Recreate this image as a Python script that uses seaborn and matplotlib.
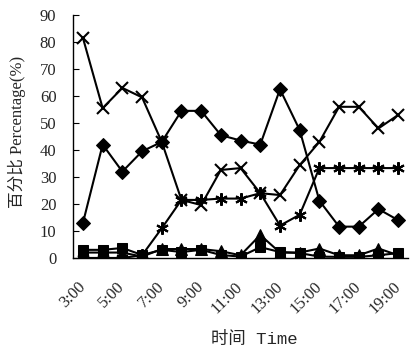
import numpy as np
import seaborn as sns
import matplotlib.pyplot as plt
from matplotlib.ticker import FixedLocator
from matplotlib.transforms import ScaledTranslation

hours = list(range(3, 20))
hour_labels = ["3:00", "5:00", "7:00", "9:00", "11:00", "13:00", "15:00", "17:00", "19:00"]
label_hours = [3, 5, 7, 9, 11, 13, 15, 17, 19]

diamond = [13, 42, 32, 39.5, 43, 54.5, 54.5, 45.5, 43.5, 42, 62.5, 47.4, 21.2, 11.6, 11.6, 18.1, 14]
cross = [81.5, 55.5, 63, 59.5, 43, 21.5, 19.6, 32.6, 33.3, 24, 23.3, 34.4, 43, 56, 56, 48, 53]
star = [0, 0, 0, 1, 11, 21.5, 21.5, 22, 22, 24, 12, 16, 33.3, 33.3, 33.3, 33.3, 33.3]
triangle = [2, 2, 2, 0.5, 3.3, 3.3, 3.3, 2.5, 1, 8.5, 2, 2, 3.5, 1, 1, 3.5, 1]
square = [3, 3, 3.7, 1.1, 3, 2.2, 3, 1.1, 0.5, 4, 2.2, 1.8, 0.5, 0.4, 0.4, 1, 1.8]

sns.set_style("white")
plt.rcParams['font.family'] = ['Liberation Serif', 'Noto Sans CJK SC']

fig = plt.figure(figsize=(4.13, 3.5), dpi=100)
ax = fig.add_axes([0.177, 0.263, 0.811, 0.694])

line_kw = dict(color='black', linewidth=1.5, markeredgecolor='black', markerfacecolor='black', ax=ax)
sns.lineplot(x=hours, y=square, marker='s', markersize=7, **line_kw)
sns.lineplot(x=hours, y=triangle, marker='^', markersize=8, **line_kw)
sns.lineplot(x=hours, y=star, marker=(6, 2, 0), markersize=9, markeredgewidth=1.5, **line_kw)
sns.lineplot(x=hours, y=cross, marker='x', markersize=9, markeredgewidth=1.5, **line_kw)
sns.lineplot(x=hours, y=diamond, marker='D', markersize=7.5, **line_kw)

ax.set_xlim(2.5, 19.5)
ax.set_ylim(0, 90)
ax.set_yticks(np.arange(0, 91, 10))
ax.set_xticks(label_hours)
ax.set_xticklabels(hour_labels, rotation=45, ha='right', va='center', rotation_mode='anchor')
shift = ScaledTranslation(-0.16, 0, fig.dpi_scale_trans)
for lab in ax.get_xticklabels():
    lab.set_transform(lab.get_transform() + shift)
ax.xaxis.set_minor_locator(FixedLocator(np.arange(2.5, 20, 1)))
ax.tick_params(axis='x', which='major', length=0, pad=19, labelsize=12)
ax.tick_params(axis='x', which='minor', direction='in', length=4, width=0.8, color='black')
ax.tick_params(axis='y', direction='in', length=4, width=0.8, color='black', labelsize=12, pad=12, left=True)

for s in ['top', 'right']:
    ax.spines[s].set_visible(False)
for s in ['left', 'bottom']:
    ax.spines[s].set_color('black')
    ax.spines[s].set_linewidth(1)

ax.set_ylabel("百分比 Percentage(%)", fontsize=12)
ax.yaxis.set_label_coords(-0.142, 0.52)
ax.set_xlabel("时间 Time", fontsize=12.5, family=['Liberation Mono', 'Noto Sans CJK SC'])
ax.xaxis.set_label_coords(0.54, -0.30)
ax.grid(False)

plt.savefig('out.png', dpi=100)
